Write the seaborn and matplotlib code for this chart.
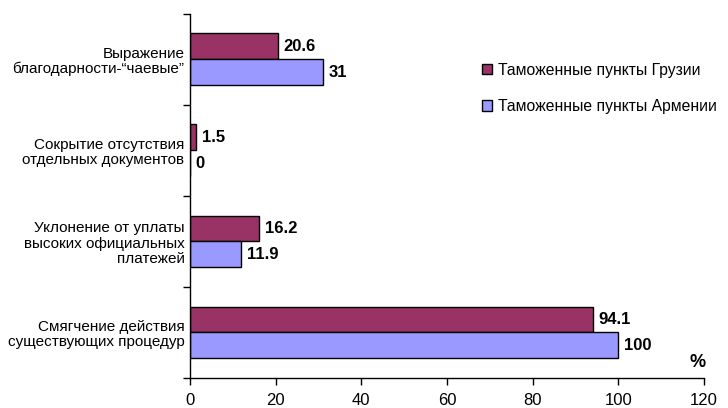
import matplotlib
matplotlib.use("Agg")
import matplotlib.pyplot as plt
import seaborn as sns
import pandas as pd

categories = [
    "Выражение\nблагодарности-“чаевые”",
    "Сокрытие отсутствия\nотдельных документов",
    "Уклонение от уплаты\nвысоких официальных\nплатежей",
    "Смягчение действия\nсуществующих процедур",
]
series = ["Таможенные пункты Грузии", "Таможенные пункты Армении"]
georgia = [20.6, 1.5, 16.2, 94.1]
armenia = [31, 0, 11.9, 100]
x_ticks = [0, 20, 40, 60, 80, 100, 120]
colors = ["#993366", "#9999FF"]

df = pd.DataFrame({
    "category": categories * 2,
    "value": georgia + armenia,
    "series": [series[0]] * len(categories) + [series[1]] * len(categories),
})

sns.set_theme(style="white")
plt.rcParams["font.family"] = ["Liberation Sans", "DejaVu Sans"]
plt.rcParams["text.color"] = "black"
plt.rcParams["xtick.color"] = "black"
plt.rcParams["ytick.color"] = "black"
plt.rcParams["xtick.labelcolor"] = "black"
plt.rcParams["ytick.labelcolor"] = "black"

fig = plt.figure(figsize=(7.28, 4.08), dpi=100)
ax = fig.add_axes([0.261, 0.0735, 0.706, 0.8925])

sns.barplot(data=df, y="category", x="value", hue="series", orient="h",
            order=categories, hue_order=series, palette=colors,
            edgecolor="black", linewidth=1.0, width=0.57, saturation=1,
            ax=ax)

# value labels at the bar ends
for cont in ax.containers:
    for bar in cont:
        w = bar.get_width()
        y = bar.get_y() + bar.get_height() / 2
        ax.text(w + 1.3, y, f"{w:g}", ha="left", va="center",
                fontsize=12, fontweight="bold", color="black")

ax.set_xlim(0, 120)
ax.set_ylim(3.5, -0.5)
ax.set_xticks(x_ticks)
ax.set_xticklabels([str(t) for t in x_ticks], fontsize=12, color="black")
ax.set_xlabel("")
ax.set_ylabel("")

# category labels without tick marks; ticks drawn at band boundaries
ax.set_yticks(range(len(categories)))
ax.set_yticklabels(categories, fontsize=11, linespacing=1.1, color="black")
ax.tick_params(axis="y", which="major", length=0, pad=4)
ax.set_yticks([-0.5, 0.5, 1.5, 2.5, 3.5], minor=True)
ax.tick_params(axis="y", which="minor", length=5, width=1, color="black",
               direction="out", left=True)
ax.tick_params(axis="x", which="major", length=5, width=1, color="black",
               direction="out", bottom=True, pad=6)

for side in ["top", "right"]:
    ax.spines[side].set_visible(False)
for side in ["left", "bottom"]:
    ax.spines[side].set_color("black")
    ax.spines[side].set_linewidth(1.0)

ax.text(118.5, 3.33, "%", ha="center", va="center", fontsize=13,
        fontweight="bold", color="black")

handles, labels = ax.get_legend_handles_labels()
leg = ax.legend(handles, labels, loc="upper left", bbox_to_anchor=(0.54, 0.905),
                frameon=False, fontsize=11.3, handlelength=0.65,
                handleheight=0.65, handletextpad=0.4, labelspacing=1.35)
for t in leg.get_texts():
    t.set_color("black")

fig.savefig("out.png", dpi=100)
